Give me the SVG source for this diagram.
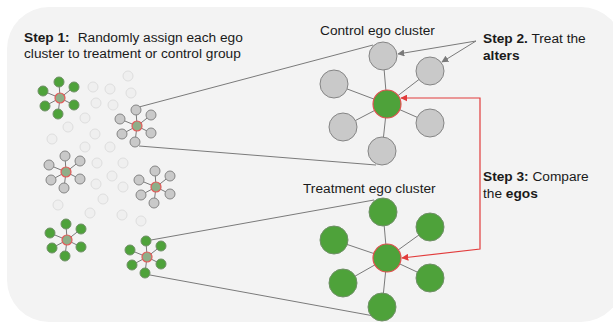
<svg xmlns="http://www.w3.org/2000/svg" xmlns:xlink="http://www.w3.org/1999/xlink" width="613" height="327" viewBox="0 0 613 327">
  <style>
    .txt { font-family: "Liberation Sans", Arial, sans-serif; font-size: 13.7px; fill: #1a1a1a; }
    .b { font-weight: bold; }
    .edge { stroke: #7a7a7a; stroke-width: 1; fill: none; }
    .alter-g { fill: #c9c9c9; stroke: #858585; stroke-width: 1; }
    .alter-t { fill: #4ea23a; stroke: #6f8f66; stroke-width: 1; }
    .ego { fill: #4ea23a; stroke: #e25050; stroke-width: 1.2; }
    .mini-ego { fill: #8fae88; stroke: #e35a5a; stroke-width: 1.2; }
    .faint { fill: #efefef; stroke: #dedede; stroke-width: 1; }
    .link { stroke: #7a7a7a; stroke-width: 1; fill: none; }
    .red { stroke: #e23c3c; stroke-width: 1.2; fill: none; }
  </style>
  <defs>
    <marker id="arrow-gray" viewBox="0 0 10 10" refX="9" refY="5" markerWidth="7" markerHeight="7" markerUnits="userSpaceOnUse" orient="auto">
      <path d="M0,0 L10,5 L0,10 Z" fill="#7a7a7a"/>
    </marker>
    <marker id="arrow-red" viewBox="0 0 10 10" refX="9" refY="5" markerWidth="7" markerHeight="7" markerUnits="userSpaceOnUse" orient="auto-start-reverse">
      <path d="M0,0 L10,5 L0,10 Z" fill="#e23c3c"/>
    </marker>
    <!-- small star-shaped cluster, centred on the ego -->
    <g id="mini-edges">
      <path class="edge" d="M0,0 L-1,-16 M0,0 L14,-11 M0,0 L-17,-7 M0,0 L-15,8 M0,0 L14,7 M0,0 L-2,16"/>
    </g>
    <g id="mini-gray">
      <use xlink:href="#mini-edges"/>
      <circle class="alter-g" cx="-1" cy="-16" r="5"/>
      <circle class="alter-g" cx="14" cy="-11" r="5"/>
      <circle class="alter-g" cx="-17" cy="-7" r="5"/>
      <circle class="alter-g" cx="-15" cy="8" r="5"/>
      <circle class="alter-g" cx="14" cy="7" r="5"/>
      <circle class="alter-g" cx="-2" cy="16" r="5"/>
      <circle class="mini-ego" cx="0" cy="0" r="5"/>
    </g>
    <g id="mini-green">
      <use xlink:href="#mini-edges"/>
      <circle class="alter-t" cx="-1" cy="-16" r="5"/>
      <circle class="alter-t" cx="14" cy="-11" r="5"/>
      <circle class="alter-t" cx="-17" cy="-7" r="5"/>
      <circle class="alter-t" cx="-15" cy="8" r="5"/>
      <circle class="alter-t" cx="14" cy="7" r="5"/>
      <circle class="alter-t" cx="-2" cy="16" r="5"/>
      <circle class="mini-ego" cx="0" cy="0" r="5"/>
    </g>
  </defs>

  <!-- panel -->
  <rect x="7" y="7" width="616" height="315" rx="42" ry="42" fill="#f3f3f3"/>

  <!-- unassigned population (faint circles) -->
  <g id="population">
    <circle class="faint" cx="128" cy="76" r="5"/>
    <circle class="faint" cx="93" cy="87" r="5"/>
    <circle class="faint" cx="110" cy="89" r="5"/>
    <circle class="faint" cx="131" cy="93" r="5"/>
    <circle class="faint" cx="96" cy="103" r="5"/>
    <circle class="faint" cx="113" cy="105" r="5"/>
    <circle class="faint" cx="85" cy="118" r="5"/>
    <circle class="faint" cx="68" cy="127" r="5"/>
    <circle class="faint" cx="95" cy="134" r="5"/>
    <circle class="faint" cx="52" cy="139" r="5"/>
    <circle class="faint" cx="85" cy="147" r="5"/>
    <circle class="faint" cx="110" cy="147" r="5"/>
    <circle class="faint" cx="97" cy="163" r="5"/>
    <circle class="faint" cx="123" cy="163" r="5"/>
    <circle class="faint" cx="112" cy="176" r="5"/>
    <circle class="faint" cx="96" cy="184" r="5"/>
    <circle class="faint" cx="123" cy="187" r="5"/>
    <circle class="faint" cx="103" cy="199" r="5"/>
    <circle class="faint" cx="58" cy="205" r="5"/>
    <circle class="faint" cx="90" cy="213" r="5"/>
    <circle class="faint" cx="122" cy="215" r="5"/>
    <circle class="faint" cx="141" cy="221" r="5"/>
  </g>

  <!-- connectors -->
  <g id="connectors">
    <path class="link" d="M139,107 L373,45"/>
    <path class="link" d="M139,146 L376,165"/>
    <path class="link" d="M151,240 L374,200"/>
    <path class="link" d="M150,275 L374,316"/>
    <path class="link" d="M476,41 L398,54" marker-end="url(#arrow-gray)"/>
    <path class="link" d="M476,41 L442,62" marker-end="url(#arrow-gray)"/>
    <path class="red" d="M401,98 H480 V249 L402,258" marker-start="url(#arrow-red)" marker-end="url(#arrow-red)"/>
  </g>

  <!-- small ego clusters -->
  <g id="cluster-a"><use xlink:href="#mini-green" x="60" y="98"/></g>
  <g id="cluster-b"><use xlink:href="#mini-gray" x="137" y="126"/></g>
  <g id="cluster-c"><use xlink:href="#mini-gray" x="66" y="172"/></g>
  <g id="cluster-d"><use xlink:href="#mini-gray" x="156" y="187"/></g>
  <g id="cluster-e"><use xlink:href="#mini-green" x="67" y="240"/></g>
  <g id="cluster-f"><use xlink:href="#mini-green" x="147" y="257"/></g>

  <!-- control ego cluster -->
  <g id="control-cluster">
    <path class="edge" d="M387,104 L383,56 M387,104 L430,71 M387,104 L334,84 M387,104 L343,127 M387,104 L430,123 M387,104 L382,151"/>
    <circle class="alter-g" cx="383" cy="56" r="14"/>
    <circle class="alter-g" cx="430" cy="71" r="14"/>
    <circle class="alter-g" cx="334" cy="84" r="14"/>
    <circle class="alter-g" cx="343" cy="127" r="14"/>
    <circle class="alter-g" cx="430" cy="123" r="14"/>
    <circle class="alter-g" cx="382" cy="151" r="14"/>
    <circle class="ego" cx="387" cy="104" r="14"/>
  </g>

  <!-- treatment ego cluster -->
  <g id="treatment-cluster">
    <path class="edge" d="M387,258 L383,212 M387,258 L430,227 M387,258 L334,240 M387,258 L343,283 M387,258 L430,278 M387,258 L382,307"/>
    <circle class="alter-t" cx="383" cy="212" r="14"/>
    <circle class="alter-t" cx="430" cy="227" r="14"/>
    <circle class="alter-t" cx="334" cy="240" r="14"/>
    <circle class="alter-t" cx="343" cy="283" r="14"/>
    <circle class="alter-t" cx="430" cy="278" r="14"/>
    <circle class="alter-t" cx="382" cy="307" r="14"/>
    <circle class="ego" cx="387" cy="258" r="14"/>
  </g>

  <!-- labels -->
  <g id="labels">
    <text class="txt" x="24" y="42"><tspan class="b">Step 1:</tspan><tspan dx="8">Randomly assign each ego</tspan></text>
    <text class="txt" x="24" y="58">cluster to treatment or control group</text>
    <text class="txt" x="320" y="35">Control ego cluster</text>
    <text class="txt" x="303" y="193">Treatment ego cluster</text>
    <text class="txt" x="483" y="43"><tspan class="b">Step 2.</tspan> Treat the</text>
    <text class="txt b" x="483" y="60">alters</text>
    <text class="txt" x="483" y="181"><tspan class="b">Step 3:</tspan> Compare</text>
    <text class="txt" x="483" y="198">the <tspan class="b">egos</tspan></text>
  </g>
</svg>
